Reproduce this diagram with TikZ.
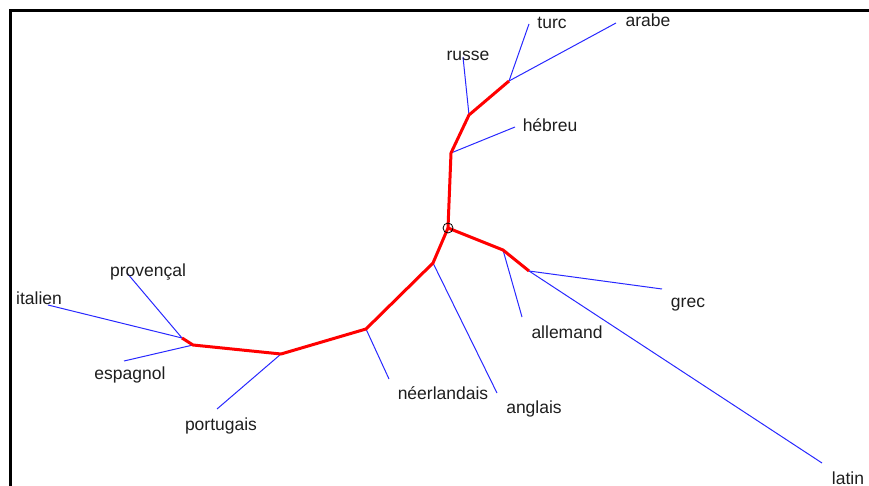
\documentclass[tikz,border=0pt]{standalone}
\usepackage{fontspec}
\setmainfont{Liberation Sans}
\usetikzlibrary{calc}
\definecolor{treered}{RGB}{255,0,0}
\definecolor{treeblue}{RGB}{40,40,255}
\definecolor{labelgray}{RGB}{30,30,30}
\tikzset{
  inner/.style={line width=3pt, color=treered, line join=round},
  leaf/.style={line width=1pt, color=treeblue},
  lang/.style={anchor=base, inner sep=0pt, text=labelgray, font=\fontsize{17.5}{20}\selectfont},
}

\begin{document}
\begin{tikzpicture}[x=1pt, y=-1pt]
			%%%%% START %%%%%
			\useasboundingbox (0, 0) rectangle (869, 486);
			
			% frame
			\draw[line width=3pt, color=black] (10, 486) -- (10, 11) -- (869, 11);
			
			% inner nodes of the tree
			\coordinate (root) at (448, 228);
			\coordinate (hebr) at (451, 153);
			\coordinate (russ) at (469, 115);
			\coordinate (turk) at (509, 81);
			\coordinate (engl) at (433, 263);
			\coordinate (dutc) at (366, 329);
			\coordinate (port) at (281, 354);
			\coordinate (span) at (193, 345);
			\coordinate (ital) at (182, 338);
			\coordinate (germ) at (503, 250);
			\coordinate (gree) at (529, 271);
			
			% leaf ends
			\coordinate (turcE) at (529, 24);
			\coordinate (arabeE) at (616, 23);
			\coordinate (russeE) at (463, 57);
			\coordinate (hebreuE) at (515, 127);
			\coordinate (anglaisE) at (497, 393);
			\coordinate (neerlE) at (389, 379);
			\coordinate (portuE) at (217, 409);
			\coordinate (espagE) at (124, 361);
			\coordinate (italE) at (48, 305);
			\coordinate (provE) at (127, 273);
			\coordinate (allemE) at (522, 317);
			\coordinate (grecE) at (662, 289);
			\coordinate (latinE) at (822, 463);
			
			% blue leaves
			\draw[leaf] (turk) -- (turcE);
			\draw[leaf] (turk) -- (arabeE);
			\draw[leaf] (russ) -- (russeE);
			\draw[leaf] (hebr) -- (hebreuE);
			\draw[leaf] (engl) -- (anglaisE);
			\draw[leaf] (dutc) -- (neerlE);
			\draw[leaf] (port) -- (portuE);
			\draw[leaf] (span) -- (espagE);
			\draw[leaf] (ital) -- (italE);
			\draw[leaf] (ital) -- (provE);
			\draw[leaf] (germ) -- (allemE);
			\draw[leaf] (gree) -- (grecE);
			\draw[leaf] (gree) -- (latinE);
			
			% red inner path
			\draw[inner] (root) -- (hebr) -- (russ) -- (turk);
			\draw[inner] (root) -- (engl) -- (dutc) -- (port) -- (span) -- (ital);
			\draw[inner] (root) -- (germ) -- (gree);
			
			\draw[line width=0.8pt, color=black] (root) circle (5);
			
			% labels
			\node[lang] (turc) at (552, 29) {turc};
			\node[lang] (arabe) at (648, 27) {arabe};
			\node[lang] (russe) at (468, 61) {russe};
			\node[lang] (hebreu) at (550, 132) {hébreu};
			\node[lang] (provencal) at (148, 276) {provençal};
			\node[lang] (italien) at (39, 304) {italien};
			\node[lang] (espagnol) at (130, 379) {espagnol};
			\node[lang] (portugais) at (221, 430) {portugais};
			\node[lang] (neerlandais) at (443, 399) {néerlandais};
			\node[lang] (anglais) at (534, 413) {anglais};
			\node[lang] (allemand) at (567, 338) {allemand};
			\node[lang] (grec) at (688, 307) {grec};
			\node[lang] (latin) at (848, 484) {latin};
			
			%%%%% END %%%%%
		\end{tikzpicture}
\end{document}
